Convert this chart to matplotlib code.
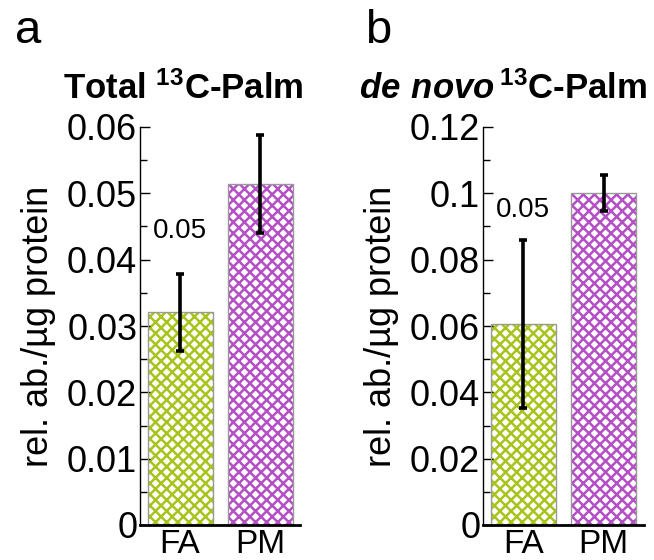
import matplotlib
matplotlib.use("Agg")
import matplotlib.pyplot as plt
from matplotlib.ticker import MultipleLocator

plt.rcParams['font.family'] = ['Liberation Sans', 'DejaVu Sans']
plt.rcParams['mathtext.fontset'] = 'custom'
plt.rcParams['mathtext.rm'] = 'Liberation Sans'
plt.rcParams['mathtext.bf'] = 'Liberation Sans:bold'
plt.rcParams['mathtext.bfit'] = 'Liberation Sans:italic:bold'
plt.rcParams['hatch.linewidth'] = 1.8

# data
groups = ['FA', 'PM']
total_vals = [0.0321, 0.0514]
total_err = [0.0058, 0.0074]
denovo_vals = [0.0607, 0.1001]
denovo_err = [0.0253, 0.0055]
pvals = ['0.05', '0.05']

bar_colors = ['#a8c41c', '#b44fc6']

fig = plt.figure(figsize=(6.54, 5.6), dpi=100)
ax_a = fig.add_axes([140/654, 35/560, 160/654, 398/560])
ax_b = fig.add_axes([483/654, 35/560, 161/654, 398/560])


def draw_panel(ax, vals, errs, ymax, major, ptext, py, title):
    x = range(len(groups))
    for i in x:
        # hatched fill, then grey outline on top
        ax.bar(i, vals[i], width=0.8125, color='white', edgecolor=bar_colors[i],
               hatch='xxx', linewidth=0, zorder=1)
        ax.bar(i, vals[i], width=0.8125, fill=False, edgecolor='#999999',
               linewidth=1.0, zorder=2)
    ax.errorbar(list(x), vals, yerr=errs, fmt='none', ecolor='black',
                elinewidth=2.6, capsize=3, capthick=2.6, zorder=3)
    ax.text(0, py, ptext, ha='center', va='center', fontsize=20)
    ax.set_xlim(-0.5, 1.5)
    ax.set_ylim(0, ymax)
    ax.yaxis.set_major_locator(MultipleLocator(major))
    ax.yaxis.set_minor_locator(MultipleLocator(major / 2))
    ax.set_xticks(list(x))
    ax.set_xticklabels(groups, fontsize=24)
    ax.tick_params(axis='x', length=0, pad=3)
    ax.tick_params(axis='y', which='major', direction='in', length=7,
                   width=1, labelsize=26, pad=2)
    ax.tick_params(axis='y', which='minor', direction='in', length=5, width=1)
    ax.spines['top'].set_visible(False)
    ax.spines['right'].set_visible(False)
    ax.spines['left'].set_linewidth(1.0)
    ax.spines['bottom'].set_linewidth(2.0)
    ax.set_ylabel('rel. ab./µg protein', fontsize=26, labelpad=8)
    ax.text(1.02, 1.07, title, transform=ax.transAxes, ha='right',
            va='baseline', fontsize=25, fontweight='bold')


draw_panel(ax_a, total_vals, total_err, 0.06, 0.01, pvals[0], 0.0443,
           r'Total $\mathbf{^{13}}$C-Palm')
draw_panel(ax_b, denovo_vals, denovo_err, 0.12, 0.02, pvals[1], 0.095,
           r'$\mathbfit{de\ novo}\,\mathbf{^{13}}$C-Palm')
ax_a.yaxis.set_major_formatter(plt.FuncFormatter(lambda v, p: '0' if v == 0 else f'{v:.2f}'))
ax_b.yaxis.set_major_formatter(plt.FuncFormatter(lambda v, p: '0' if v == 0 else f'{v:g}'))

fig.text(15/654, 1 - 43/560, 'a', fontsize=34, va='baseline')
fig.text(365/654, 1 - 43/560, 'b', fontsize=34, va='baseline')

fig.savefig('out.png', dpi=100)
